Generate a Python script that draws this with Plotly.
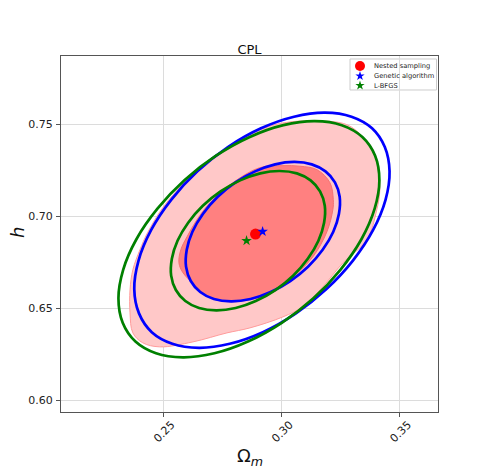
import plotly.graph_objects as go

# contour vertices (Omega_m, h)
# nested sampling: filled 95% / 68% regions
ns_2sig_om = [0.3149, 0.3275, 0.3343, 0.3385, 0.3407, 0.3415, 0.3402, 0.3360, 0.3259, 0.3170,
              0.3089, 0.3005, 0.2865, 0.2768, 0.2624, 0.2484, 0.2412, 0.2370, 0.2358, 0.2358,
              0.2370, 0.2400, 0.2432, 0.2506, 0.2650, 0.2775, 0.2930, 0.3013]
ns_2sig_h = [0.7518, 0.7497, 0.7431, 0.7361, 0.7268, 0.7143, 0.7034, 0.6871, 0.6746, 0.6610,
             0.6507, 0.6452, 0.6392, 0.6365, 0.6316, 0.6289, 0.6311, 0.6365, 0.6474, 0.6599,
             0.6708, 0.6817, 0.6909, 0.7062, 0.7260, 0.7377, 0.7480, 0.7508]

ns_1sig_om = [0.3077, 0.3149, 0.3204, 0.3218, 0.3216, 0.3191, 0.3132, 0.3034, 0.2950, 0.2865,
              0.2780, 0.2696, 0.2641, 0.2582, 0.2565, 0.2573, 0.2599, 0.2641, 0.2696, 0.2793,
              0.2907, 0.3005]
ns_1sig_h = [0.7271, 0.7252, 0.7181, 0.7089, 0.7034, 0.6915, 0.6779, 0.6654, 0.6577, 0.6545,
             0.6534, 0.6556, 0.6615, 0.6692, 0.6746, 0.6817, 0.6887, 0.6980, 0.7072, 0.7181,
             0.7263, 0.7274]

# genetic algorithm: 95% / 68% contour lines
ga_2sig_om = [0.3183, 0.3295, 0.3382, 0.3436, 0.3456, 0.3439, 0.3386, 0.3301, 0.3189, 0.3060,
              0.2920, 0.2780, 0.2650, 0.2537, 0.2450, 0.2396, 0.2376, 0.2394, 0.2447, 0.2532,
              0.2643, 0.2772, 0.2912, 0.3052]
ga_2sig_h = [0.7562, 0.7540, 0.7477, 0.7375, 0.7243, 0.7088, 0.6923, 0.6758, 0.6603, 0.6471,
             0.6369, 0.6306, 0.6284, 0.6306, 0.6369, 0.6471, 0.6603, 0.6758, 0.6923, 0.7088,
             0.7243, 0.7375, 0.7477, 0.7540]

ga_1sig_om = [0.3054, 0.3127, 0.3185, 0.3225, 0.3245, 0.3242, 0.3218, 0.3173, 0.3111, 0.3036,
              0.2953, 0.2868, 0.2786, 0.2713, 0.2655, 0.2615, 0.2595, 0.2598, 0.2622, 0.2667,
              0.2729, 0.2804, 0.2887, 0.2972]
ga_1sig_h = [0.7294, 0.7281, 0.7243, 0.7183, 0.7105, 0.7013, 0.6915, 0.6817, 0.6725, 0.6647,
             0.6587, 0.6549, 0.6536, 0.6549, 0.6587, 0.6647, 0.6725, 0.6817, 0.6915, 0.7013,
             0.7105, 0.7183, 0.7243, 0.7281]

# L-BFGS: 95% / 68% contour lines
lb_2sig_om = [0.3140, 0.3254, 0.3341, 0.3395, 0.3413, 0.3393, 0.3337, 0.3248, 0.3134, 0.3000,
              0.2857, 0.2715, 0.2582, 0.2468, 0.2381, 0.2327, 0.2309, 0.2329, 0.2385, 0.2474,
              0.2588, 0.2722, 0.2865, 0.3007]
lb_2sig_h = [0.7516, 0.7494, 0.7430, 0.7328, 0.7195, 0.7040, 0.6874, 0.6708, 0.6553, 0.6420,
             0.6318, 0.6254, 0.6232, 0.6254, 0.6318, 0.6420, 0.6553, 0.6708, 0.6874, 0.7040,
             0.7195, 0.7328, 0.7430, 0.7494]

lb_1sig_om = [0.2991, 0.3064, 0.3122, 0.3162, 0.3182, 0.3179, 0.3155, 0.3110, 0.3048, 0.2973,
              0.2890, 0.2805, 0.2723, 0.2650, 0.2592, 0.2552, 0.2532, 0.2535, 0.2559, 0.2604,
              0.2666, 0.2741, 0.2824, 0.2909]
lb_1sig_h = [0.7245, 0.7232, 0.7194, 0.7134, 0.7056, 0.6964, 0.6866, 0.6768, 0.6676, 0.6598,
             0.6538, 0.6500, 0.6487, 0.6500, 0.6538, 0.6598, 0.6676, 0.6768, 0.6866, 0.6964,
             0.7056, 0.7134, 0.7194, 0.7232]

# best-fit points
best_names = ["Nested sampling", "Genetic algorithm", "L-BFGS"]
best_om = [0.2889, 0.2919, 0.2851]
best_h = [0.6902, 0.6916, 0.6866]

x_ticks = [0.25, 0.30, 0.35]
y_ticks = [0.60, 0.65, 0.70, 0.75]


def closed(xs, ys):
    return list(xs) + [xs[0]], list(ys) + [ys[0]]


fig = go.Figure()

x, y = closed(ns_2sig_om, ns_2sig_h)
fig.add_trace(go.Scatter(x=x, y=y, mode="lines", fill="toself", fillcolor="#ffc8c8",
                         line=dict(color="#ff9c9c", width=1, shape="spline"),
                         showlegend=False, hoverinfo="skip"))
x, y = closed(ns_1sig_om, ns_1sig_h)
fig.add_trace(go.Scatter(x=x, y=y, mode="lines", fill="toself", fillcolor="#ff8080",
                         line=dict(color="#f47272", width=1, shape="spline"),
                         showlegend=False, hoverinfo="skip"))

for xs, ys, color in [(ga_2sig_om, ga_2sig_h, "#0000ff"), (ga_1sig_om, ga_1sig_h, "#0000ff"),
                      (lb_2sig_om, lb_2sig_h, "#008000"), (lb_1sig_om, lb_1sig_h, "#008000")]:
    x, y = closed(xs, ys)
    fig.add_trace(go.Scatter(x=x, y=y, mode="lines",
                             line=dict(color=color, width=2.7, shape="spline"),
                             showlegend=False, hoverinfo="skip"))

styles = [("circle", "#ff0000", 11), ("star", "#0000ff", 8), ("star", "#008000", 8)]
for name, om, h, (sym, col, size) in zip(best_names, best_om, best_h, styles):
    fig.add_trace(go.Scatter(x=[om], y=[h], mode="markers", name=name, showlegend=False,
                             marker=dict(symbol=sym, color=col, size=size, line=dict(width=0))))

# compact matplotlib-like legend, placed in plot-area fractions on an overlay axis
leg_y = [0.9719, 0.9438, 0.9171]
for name, ly, (sym, col, size) in zip(best_names, leg_y, styles):
    fig.add_trace(go.Scatter(x=[0.7931], y=[ly], mode="markers", xaxis="x2", yaxis="y2",
                             showlegend=False, hoverinfo="skip",
                             marker=dict(symbol=sym, color=col, size=size - 1, line=dict(width=0))))
    fig.add_annotation(x=0.8241, y=ly, xref="paper", yref="paper", text=name, showarrow=False,
                       xanchor="left", yanchor="middle", font=dict(size=6.7, color="#222222"))
fig.add_shape(type="rect", xref="paper", yref="paper", x0=0.7666, x1=0.9960, y0=0.9045, y1=0.9916,
              line=dict(color="#cccccc", width=1), fillcolor="white", layer="between")

# axis titles
fig.add_annotation(x=0.501, y=-0.1264, xref="paper", yref="paper", showarrow=False,
                   text="Ω<sub><i>m</i></sub>", font=dict(size=18, color="#111111"),
                   xanchor="center", yanchor="middle")
fig.add_annotation(x=-0.1140, y=0.503, xref="paper", yref="paper", showarrow=False,
                   text="<i>h</i>", textangle=-90, font=dict(size=18, color="#111111"),
                   xanchor="center", yanchor="middle")

axis_common = dict(showgrid=True, gridcolor="#dcdcdc", gridwidth=1, zeroline=False,
                   showline=True, linecolor="#555555", linewidth=1, mirror=True,
                   ticks="outside", ticklen=4, tickcolor="#555555", automargin=False,
                   tickfont=dict(size=11, color="#222222"))

fig.update_layout(
    width=479, height=463,
    margin=dict(l=53, r=49, t=48, b=59),
    paper_bgcolor="white", plot_bgcolor="white",
    font=dict(family="DejaVu Sans", color="#222222"),
    title=dict(text="CPL", x=0.5, xanchor="center", xref="paper", y=0.9017, yanchor="bottom",
               font=dict(size=13, color="#111111")),
    showlegend=False,
    xaxis=dict(range=[0.2066, 0.3661], tickvals=x_ticks, ticktext=["0.25", "0.30", "0.35"],
               tickangle=-45, ticklabelshift=8, ticklabelstandoff=-3, **axis_common),
    yaxis=dict(range=[0.5935, 0.787], tickvals=y_ticks, ticktext=["0.60", "0.65", "0.70", "0.75"],
               ticklabelstandoff=1, **axis_common),
    xaxis2=dict(overlaying="x", range=[0, 1], visible=False, anchor="y2"),
    yaxis2=dict(overlaying="y", range=[0, 1], visible=False, anchor="x2"),
)

fig.write_html("out.html")
